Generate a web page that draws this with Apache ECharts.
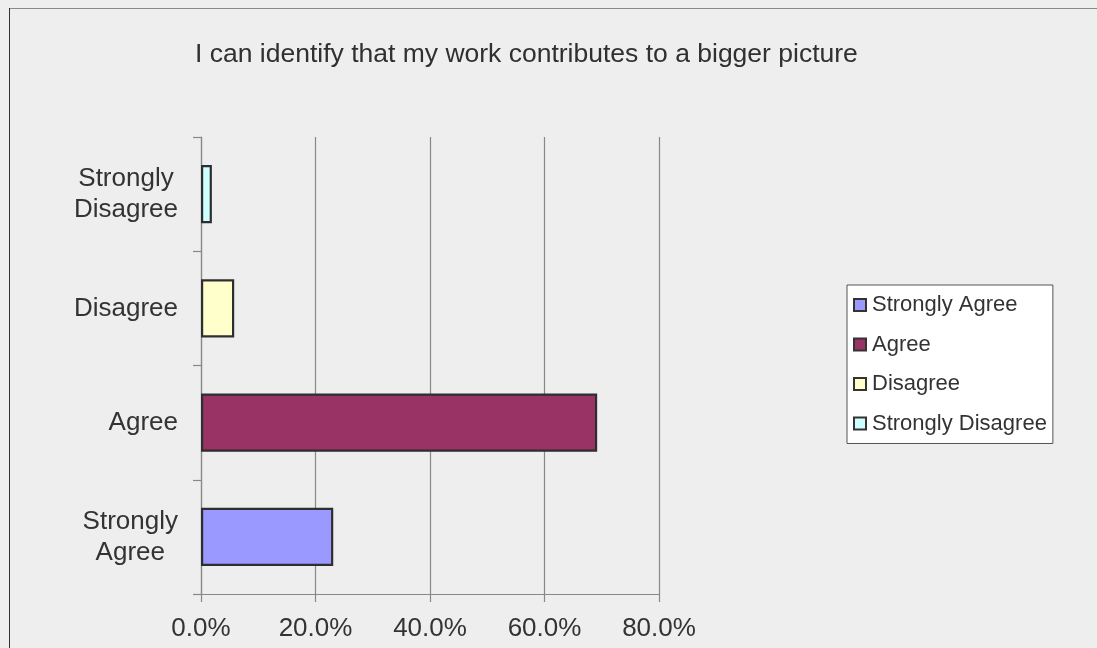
<!DOCTYPE html>
<html>
<head>
<meta charset="utf-8">
<script src="https://cdn.jsdelivr.net/npm/echarts@6/dist/echarts.min.js"></script>
<style>
  html, body { margin: 0; padding: 0; background: #eeeeee; }
  #chart { width: 1097px; height: 648px; }
</style>
</head>
<body>
<div id="chart"></div>
<script>
const titleText = 'I can identify that my work contributes to a bigger picture';
const categories = ['Strongly Agree', 'Agree', 'Disagree', 'Strongly Disagree'];
const values = [23.1, 69.2, 5.8, 1.9];
const tickMin = 0;
const tickMax = 80;
const tickStep = 20;
const colors = ['#9999ff', '#993366', '#ffffcc', '#ccffff'];

const chart = echarts.init(document.getElementById('chart'), null, { renderer: 'canvas' });

const series = categories.map((name, i) => ({
  name: name,
  type: 'bar',
  stack: 'total',
  barWidth: '51%',
  data: categories.map((c, j) => (j === i ? values[i] : '-')),
  itemStyle: { color: colors[i], borderColor: '#2e2e2e', borderWidth: 2.2 },
  emphasis: { disabled: true },
  animation: false
}));

chart.setOption({
  backgroundColor: '#eeeeee',
  animation: false,
  title: {
    text: titleText,
    left: 195,
    top: 41,
    padding: 0,
    textStyle: { fontFamily: 'Liberation Sans', fontSize: 26.5, fontWeight: 'normal', color: '#303030' }
  },
  graphic: [
    { type: 'line', shape: { x1: 9, y1: 8.5, x2: 1097, y2: 8.5 }, style: { stroke: '#8a8a8a', lineWidth: 1 } },
    { type: 'line', shape: { x1: 9.5, y1: 8, x2: 9.5, y2: 648 }, style: { stroke: '#333333', lineWidth: 1 } }
  ],
  grid: { left: 201, right: 438, top: 137, bottom: 54, containLabel: false },
  legend: {
    orient: 'vertical',
    left: 847,
    top: 285,
    padding: [9, 6, 9, 6],
    itemGap: 17.5,
    itemWidth: 12,
    itemHeight: 12,
    icon: 'rect',
    backgroundColor: '#ffffff',
    borderColor: '#555555',
    borderWidth: 1,
    borderRadius: 0,
    itemStyle: { borderColor: '#333333', borderWidth: 2 },
    textStyle: { fontFamily: 'Liberation Sans', fontSize: 22, color: '#333333', padding: [0, 0, 0, 1] },
    data: categories
  },
  xAxis: {
    type: 'value',
    min: tickMin,
    max: tickMax,
    interval: tickStep,
    axisLine: { show: true, lineStyle: { color: '#888888', width: 1.2 } },
    axisTick: { show: true, length: 8, lineStyle: { color: '#888888', width: 1.2 } },
    splitLine: { show: true, lineStyle: { color: '#888888', width: 1.2 } },
    axisLabel: {
      margin: 22,
      fontFamily: 'Liberation Sans',
      fontSize: 26,
      color: '#333333',
      formatter: v => v.toFixed(1) + '%'
    }
  },
  yAxis: {
    type: 'category',
    data: categories,
    axisLine: { show: true, lineStyle: { color: '#888888', width: 1.2 } },
    axisTick: { show: true, length: 8, lineStyle: { color: '#888888', width: 1.2 } },
    splitLine: { show: false },
    axisLabel: {
      margin: 23,
      align: 'right',
      fontFamily: 'Liberation Sans',
      fontSize: 26,
      color: '#333333',
      formatter: v => v.split(' ').map(w => '{c|' + w + '}').join('\n'),
      rich: {
        c: { align: 'center', fontFamily: 'Liberation Sans', fontSize: 26, lineHeight: 31, color: '#333333' }
      }
    }
  },
  series: series
});
</script>
</body>
</html>
